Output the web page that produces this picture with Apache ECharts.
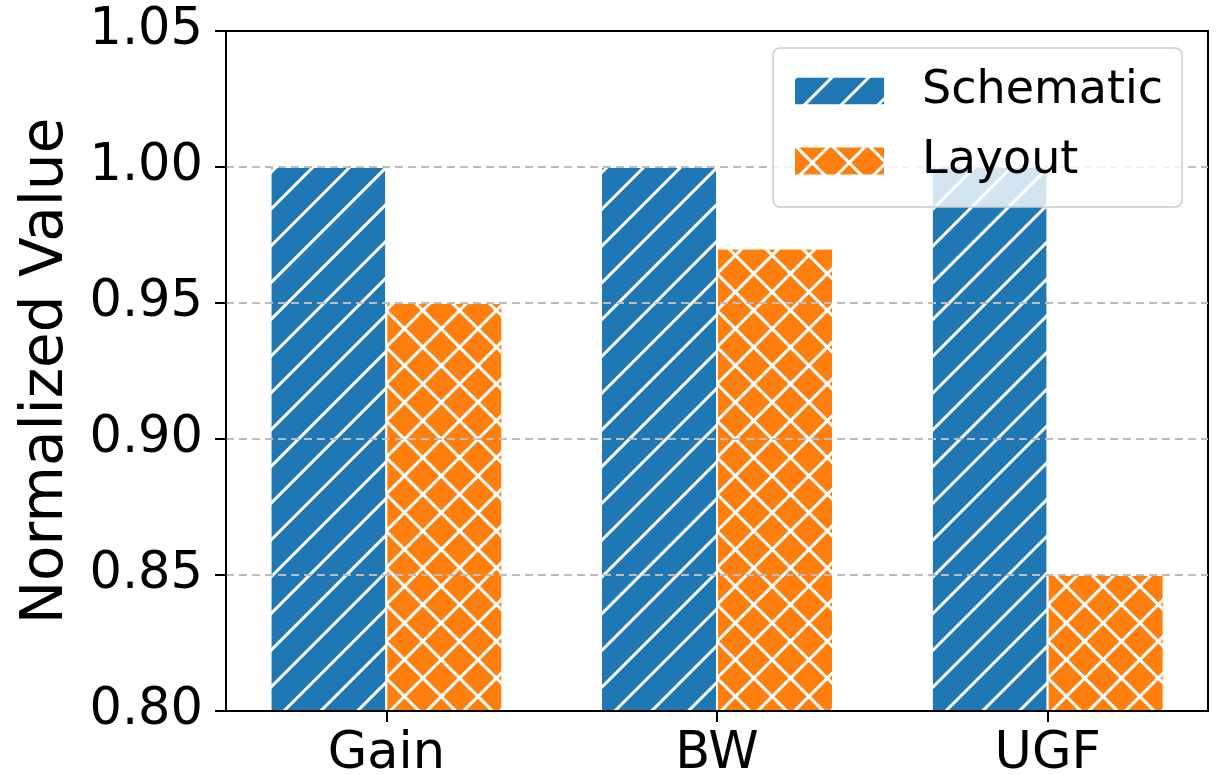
<!DOCTYPE html>
<html>
<head>
<meta charset="utf-8">
<script src="https://cdn.jsdelivr.net/npm/echarts@6/dist/echarts.min.js"></script>
<style>
  html, body { margin: 0; padding: 0; background: #fff; }
  #chart { width: 1218px; height: 775px; }
</style>
</head>
<body>
<div id="chart"></div>
<script>
// Metrics on the x axis, one group of bars per metric
const categories = ['Gain', 'BW', 'UGF'];
const schematicValues = [1.00, 1.00, 1.00];
const layoutValues = [0.95, 0.97, 0.85];
const seriesNames = ['Schematic', 'Layout'];
const yTicks = [0.80, 0.85, 0.90, 0.95, 1.00, 1.05];

const FONT = 'DejaVu Sans';
const positions = categories.map((_, i) => i);

const chart = echarts.init(document.getElementById('chart'), null, { renderer: 'canvas' });

// diagonal "/" stripes in white over the blue bars
const stripeDecal = {
  symbol: 'rect',
  symbolSize: 1,
  color: '#ffffff',
  dashArrayX: [1, 0],
  dashArrayY: [2.2, 22.8],
  rotation: -Math.PI / 4
};
// cross-hatch: orange diamonds on a white lattice
const crossDecal = {
  symbol: 'rect',
  symbolSize: 1,
  color: '#ff7f0e',
  dashArrayX: [22.6, 2.4],
  dashArrayY: [22.6, 2.4],
  rotation: Math.PI / 4
};

chart.setOption({
  animation: false,
  backgroundColor: '#ffffff',
  grid: {
    left: 226, right: 10, top: 31, bottom: 64,
    outerBoundsMode: 'none',
    containLabel: false,
    show: true, borderColor: '#000', borderWidth: 2, backgroundColor: 'transparent'
  },
  legend: {
    left: 773, top: 48,
    orient: 'vertical',
    icon: 'rect',
    itemWidth: 91, itemHeight: 29, itemGap: 24,
    padding: [20, 19, 23, 20],
    backgroundColor: 'rgba(255,255,255,0.8)',
    borderColor: '#cccccc', borderWidth: 1.5, borderRadius: 7,
    textStyle: { fontFamily: FONT, fontSize: 46, color: '#000', padding: [0, 0, 0, 32] },
    data: seriesNames
  },
  xAxis: {
    type: 'value',
    min: -0.485, max: 2.485,
    z: 3,
    axisLine: { show: true, onZero: false, lineStyle: { color: '#000', width: 2 } },
    axisTick: { show: true, customValues: positions, length: 11, lineStyle: { color: '#000', width: 2 } },
    axisLabel: {
      customValues: positions,
      formatter: v => categories[Math.round(v)] || '',
      fontFamily: FONT, fontSize: 51, color: '#000', margin: 18
    },
    splitLine: { show: false }
  },
  yAxis: {
    type: 'value',
    min: yTicks[0], max: yTicks[yTicks.length - 1], interval: 0.05,
    z: 3,
    name: 'Normalized Value',
    nameLocation: 'middle',
    nameGap: 150,
    nameTextStyle: { fontFamily: FONT, fontSize: 58, color: '#000' },
    axisLine: { show: true, onZero: false, lineStyle: { color: '#000', width: 2 } },
    axisTick: { show: true, length: 11, lineStyle: { color: '#000', width: 2 } },
    axisLabel: {
      formatter: v => v.toFixed(2),
      fontFamily: FONT, fontSize: 51, color: '#000', margin: 23
    },
    splitLine: {
      show: true, showMinLine: false, showMaxLine: false,
      lineStyle: { color: '#bdbdbd', width: 2, type: [8, 5] }
    }
  },
  series: [
    {
      name: seriesNames[0],
      type: 'bar',
      barWidth: 116,
      barGap: '0%',
      itemStyle: { color: '#1f77b4', borderColor: '#ffffff', borderWidth: 1, decal: stripeDecal },
      data: positions.map(i => [i, schematicValues[i]])
    },
    {
      name: seriesNames[1],
      type: 'bar',
      barWidth: 116,
      barGap: '0%',
      itemStyle: { color: '#ffffff', borderColor: '#ffffff', borderWidth: 1, decal: crossDecal },
      data: positions.map(i => [i, layoutValues[i]])
    }
  ]
});
</script>
</body>
</html>
